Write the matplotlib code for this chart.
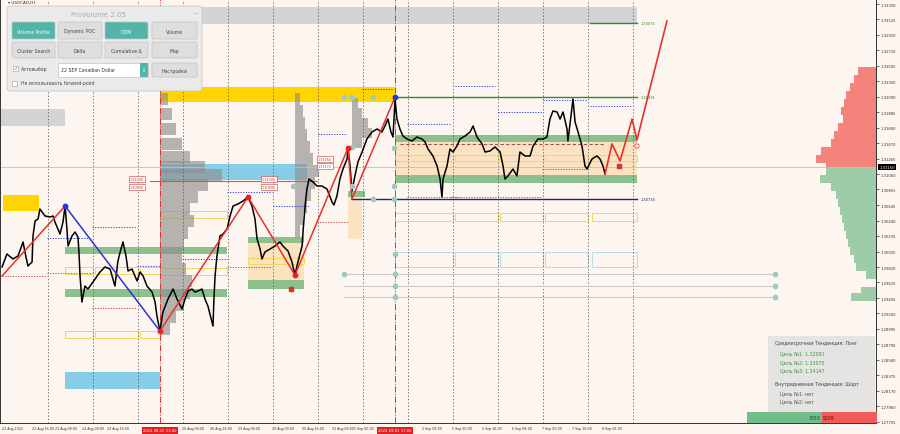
import matplotlib
matplotlib.use("Agg")
import matplotlib.pyplot as plt
import matplotlib.transforms as mtransforms
from matplotlib.patches import Rectangle, FancyBboxPatch

# time axis: hours from 22 Aug 2022 00:00 (weekends removed), prices USDCAD
path_h = [1.1, 3.7, 6.9, 9.6, 12.3, 13.3, 14.9, 17.1, 17.6, 18.7, 20.3, 21.3, 24.0, 26.7, 28.3,
          29.3, 32.0, 33.6, 34.7, 35.7, 36.3, 38.4, 40.0, 41.6, 42.1, 42.7, 43.7, 45.3, 46.9, 49.6,
          53.3, 56.0, 58.7, 61.3, 62.9, 64.5, 65.6, 67.2, 68.3, 70.4, 73.1, 74.7, 76.3, 78.4, 81.1,
          82.7, 83.7, 85.3, 86.9, 89.6, 92.3, 94.4, 97.1, 98.7, 100.3, 102.4, 104.0, 105.6, 107.7,
          109.3, 110.9, 113.1, 113.6, 114.1, 114.7, 115.7, 117.3, 118.9, 121.1, 122.7, 124.3, 126.9,
          129.6, 132.3, 134.4, 136.0, 137.1, 138.7, 139.7, 141.3, 144.0, 146.7, 149.3, 150.9, 153.6,
          155.7, 157.3, 158.9, 161.1, 161.6, 162.7, 163.7, 164.8, 166.9, 169.1, 171.7, 174.4, 177.1,
          178.1, 179.7, 181.3, 182.9, 185.1, 185.6, 186.7, 187.7, 189.3, 190.9, 193.1, 195.7, 198.4,
          201.1, 203.7, 205.3, 206.9, 208.5, 209.6, 210.7, 211.7, 213.3, 214.9, 217.1, 219.7, 222.4,
          225.1, 226.7, 228.3, 230.9, 233.1, 234.7, 235.7, 236.3, 238.4, 240.0, 241.6, 243.7, 245.3,
          248.0, 250.7, 252.3, 254.4, 257.1, 258.7, 261.3, 264.0, 266.7, 268.3, 269.3, 270.9, 273.6,
          275.7, 277.3, 280.0, 282.7, 284.3, 286.9, 289.6, 291.7, 293.3, 294.9, 297.1, 298.7, 300.3,
          302.4, 302.9, 304.5, 305.6, 306.7, 308.3, 310.4, 312.0, 313.1, 315.7, 318.4, 320.0, 321.6,
          322.7]
path_p = [1.29820, 1.29994, 1.29927, 1.29967, 1.30154, 1.30020, 1.29833, 1.29887, 1.30234, 1.30434,
          1.30461, 1.30594, 1.30501, 1.30487, 1.30501, 1.30421, 1.30260, 1.30421, 1.30634, 1.30327,
          1.30100, 1.30234, 1.30287, 1.30220, 1.30020, 1.29700, 1.29353, 1.29566, 1.29526, 1.29620,
          1.29753, 1.29820, 1.29793, 1.29566, 1.29900, 1.30060, 1.30154, 1.29967, 1.29767, 1.29793,
          1.29633, 1.29753, 1.29700, 1.29566, 1.29486, 1.29353, 1.29166, 1.28966, 1.29219, 1.29393,
          1.29526, 1.29393, 1.29260, 1.29393, 1.29500, 1.29526, 1.29486, 1.29500, 1.29526, 1.29393,
          1.29299, 1.29086, 1.29032, 1.29393, 1.29700, 1.29967, 1.30234, 1.30260, 1.30327, 1.30501,
          1.30634, 1.30661, 1.30701, 1.30754, 1.30634, 1.30461, 1.30194, 1.30060, 1.29927, 1.30020,
          1.30060, 1.30100, 1.30154, 1.30100, 1.30034, 1.29887, 1.29713, 1.29887, 1.30100, 1.30287,
          1.30634, 1.30861, 1.30995, 1.30955, 1.30901, 1.30901, 1.30861, 1.30688, 1.30648, 1.30768,
          1.30995, 1.31128, 1.31262, 1.31408, 1.31168, 1.30834, 1.31035, 1.31221, 1.31355, 1.31529,
          1.31622, 1.31662, 1.31622, 1.31702, 1.31795, 1.31622, 1.31555, 1.32062, 1.31795, 1.31662,
          1.31568, 1.31528, 1.31502, 1.31555, 1.31528, 1.31489, 1.31395, 1.31302, 1.31168, 1.30995,
          1.30754, 1.30995, 1.31168, 1.31395, 1.31355, 1.31435, 1.31528, 1.31568, 1.31622, 1.31702,
          1.31555, 1.31462, 1.31355, 1.31368, 1.31422, 1.31355, 1.31168, 1.30995, 1.31035, 1.31128,
          1.31035, 1.31355, 1.31302, 1.31302, 1.31435, 1.31528, 1.31528, 1.31555, 1.31795, 1.31902,
          1.31889, 1.31795, 1.31889, 1.31662, 1.31502, 1.31835, 1.32062, 1.31755, 1.31622, 1.31435,
          1.31168, 1.31128, 1.31262, 1.31302, 1.31262, 1.31168, 1.31061]

# forecast path
fc_h = [322.7, 326.4, 330.7, 337.1, 339.7, 355.7]
fc_p = [1.31061, 1.31462, 1.31235, 1.31795, 1.31515, 1.33103]

# zigzag swings
zz_h = [1.1, 34.7, 85.3, 132.3, 157.3, 185.6, 187.7, 210.7]
zz_p = [1.29700, 1.30634, 1.28966, 1.30754, 1.29713, 1.31408, 1.30728, 1.32089]
zz_col = ['red', 'blue', 'red', 'red', 'red', 'red', 'red']

# targets
tgt_p = [1.33075, 1.32091, 1.30734]
tgt_h0 = [314.7, 210.7, 187.7]
tgt_col = ['#2e8b2e', '#2e8b2e', '#23236e']

# zones: h0, h1, p_low, p_high, kind
zones = [
    (1.6, 20.8, 1.30568, 1.30781, 'gold'),
    (85.3, 210.7, 1.32022, 1.32222, 'gold'),
    (85.3, 339.7, 1.33063, 1.33290, 'gray'),
    (0.0, 34.7, 1.31702, 1.31929, 'gray'),
    (85.3, 163.7, 1.30981, 1.31195, 'sky'),
    (34.7, 85.3, 1.28192, 1.28419, 'sky'),
    (34.7, 121.1, 1.29994, 1.30087, 'green'),
    (34.7, 121.1, 1.29420, 1.29526, 'green'),
    (132.3, 162.1, 1.30140, 1.29647, 'peach'),
    (132.3, 162.1, 1.29526, 1.29647, 'green'),
    (132.3, 162.1, 1.30140, 1.30220, 'green'),
    (185.6, 193.1, 1.30194, 1.30754, 'peach'),
    (185.6, 194.7, 1.30754, 1.30834, 'green'),
    (210.7, 339.7, 1.31048, 1.31488, 'peach'),
    (210.7, 339.7, 1.31488, 1.31582, 'green'),
    (210.7, 339.7, 1.30941, 1.31048, 'green'),
]
zone_col = {'gold': '#ffd400', 'gray': '#d4d4d4', 'sky': '#87cde8',
            'green': '#8cc08c', 'peach': '#fbe3c2'}

# outlined boxes: h0, h1, p_low, p_high, colour
left_cells = [(34.7, 49.6), (50.7, 73.6), (74.7, 85.3)]
mid_cells = [(85.3, 97.6), (98.7, 121.1)]
right_cells = [(210.7, 241.6), (242.7, 265.6), (266.7, 289.6), (290.7, 313.6), (315.7, 339.7)]
frames = ([(a, b, 1.29727, 1.29820, '#f2d660') for a, b in left_cells] +
          [(a, b, 1.28872, 1.28966, '#f2d660') for a, b in left_cells] +
          [(a, b, 1.30474, 1.30568, '#f2d660') for a, b in mid_cells] +
          [(a, b, 1.29713, 1.29807, '#f2d660') for a, b in mid_cells] +
          [(132.3, 162.1, 1.29860, 1.29940, '#f2d660')] +
          [(a, b, 1.31235, 1.31315, '#f2d660') for a, b in right_cells] +
          [(a, b, 1.30434, 1.30541, '#f2d660') for a, b in right_cells] +
          [(a, b, 1.29820, 1.30020, '#b8dde4') for a, b in right_cells])

# dotted levels: price, h0, h1, colour
dot_levels = [
    (1.30207, 25.1, 48.0, 'b'), (1.30354, 49.1, 73.1, 'b'), (1.29833, 73.1, 85.3, 'b'),
    (1.30821, 121.1, 145.1, 'b'), (1.30634, 145.6, 165.3, 'b'), (1.29927, 97.1, 121.1, 'b'),
    (1.32196, 193.1, 209.6, 'b'), (1.31729, 217.1, 240.0, 'b'), (1.31595, 169.6, 185.1, 'b'),
    (1.32236, 242.7, 264.0, 'b'), (1.31889, 265.6, 289.1, 'b'), (1.32049, 289.6, 313.1, 'b'),
    (1.31969, 314.7, 337.1, 'b'),
    (1.29700, 1.1, 25.1, 'r'), (1.29740, 25.1, 49.1, 'r'), (1.29273, 49.1, 73.1, 'r'),
    (1.29820, 121.1, 145.1, 'r'), (1.30421, 169.1, 185.6, 'r'), (1.30754, 217.1, 245.3, 'r'),
    (1.31128, 289.1, 313.1, 'r'), (1.30754, 240.0, 289.1, 'r'),
]

# gray volume profiles: anchor hour, prices, widths (hours)
vp_a_h = 85.3
vp_a_p = [1.32062, 1.31862, 1.31662, 1.31462, 1.31288, 1.31155, 1.31048, 1.30915, 1.30754, 1.30594,
          1.30434, 1.30274, 1.30114, 1.29953, 1.29793, 1.29633, 1.29473, 1.29313, 1.29153, 1.28993]
vp_a_w = [4.3, 6.4, 8.5, 11.7, 16.0, 24.0, 33.0, 25.6, 20.3, 16.0,
          18.1, 14.9, 12.8, 11.7, 13.9, 17.1, 16.0, 12.8, 8.5, 5.3]
vp_b_h = 157.3
vp_b_p = [1.32062, 1.31902, 1.31742, 1.31582, 1.31422, 1.31262, 1.31101, 1.30941, 1.30781, 1.30621,
          1.30461, 1.30300]
vp_b_w = [2.7, 4.3, 5.3, 6.4, 8.0, 9.6, 12.8, 10.7, 8.5, 6.4, 4.3, 2.7]
vp_c_h = 187.7
vp_c_p = [1.32009, 1.31875, 1.31742, 1.31609, 1.31475]
vp_c_w = [3.2, 5.3, 8.5, 10.7, 5.3]

# right side market profile (sell red / buy green), widths in hours
mp_red_p = [1.32436, 1.32329, 1.32222, 1.32116, 1.32009, 1.31902, 1.31795, 1.31689, 1.31582,
            1.31475, 1.31368, 1.31262, 1.31181]
mp_red_w = [9.6, 11.7, 13.9, 16.0, 17.1, 18.7, 17.6, 20.3, 22.4, 24.0, 29.3, 32.0, 26.7]
mp_grn_p = [1.31101, 1.30995, 1.30888, 1.30781, 1.30674, 1.30567, 1.30461, 1.30354, 1.30247,
            1.30140, 1.30034, 1.29927, 1.29820, 1.29713, 1.29500, 1.29420]
mp_grn_w = [26.7, 29.9, 24.0, 21.3, 20.3, 19.2, 18.1, 17.1, 16.0, 14.9, 13.9, 11.7, 10.7, 5.3, 8.0, 13.3]
buy_vol, sell_vol = 7053, 5209

# teal markers
mk_h = [183.5, 187.7, 198.9, 187.7, 210.1, 210.1, 187.7, 210.1, 198.9, 156.3,
        183.5, 210.7, 210.7, 210.7, 210.7, 413.3, 413.3, 413.3]
mk_p = [1.32089, 1.32089, 1.32089, 1.31422, 1.31408, 1.30901, 1.30901, 1.30728, 1.30728, 1.30901,
        1.29727, 1.29994, 1.29727, 1.29567, 1.29420, 1.29727, 1.29567, 1.29420]

bid = 1.31150
x_pos = [1.1, 17.1, 29.3, 43.7, 57.1, 97.1, 112.0, 126.9, 145.1, 161.1, 177.1, 188.8, 225.1,
         241.1, 257.1, 273.1, 289.1, 305.1, 321.1]
x_lab = ['22 Aug 2022', '22 Aug 16:00', '23 Aug 08:00', '24 Aug 00:00', '24 Aug 16:00',
         '26 Aug 00:00', '26 Aug 16:00', '29 Aug 08:00', '30 Aug 00:00', '30 Aug 16:00',
         '31 Aug 08:00', '1 Sep 00:00', '2 Sep 08:00', '5 Sep 00:00', '5 Sep 16:00',
         '6 Sep 08:00', '7 Sep 00:00', '7 Sep 16:00', '8 Sep 08:00']
day_sep = [25.6, 49.6, 73.6, 97.6, 121.6, 145.6, 169.6, 193.6, 217.6, 241.6, 265.6, 289.6,
           313.6, 337.6]
y_ticks = [1.33330, 1.33125, 1.32920, 1.32710, 1.32505, 1.32300, 1.32090, 1.31885, 1.31680,
           1.31470, 1.31265, 1.31060, 1.30855, 1.30645, 1.30440, 1.30235, 1.30025, 1.29820,
           1.29615, 1.29405, 1.29200, 1.28995, 1.28790, 1.28580, 1.28375, 1.28170, 1.27960,
           1.27755]
marks = [(85.3, '2022.08.25 13:00'), (210.7, '2022.09.01 17:00')]

BG = '#fdf5ef'
fig = plt.figure(figsize=(9, 4.35), dpi=100, facecolor=BG)
ax = fig.add_axes([0, 11 / 435, 876 / 900, 424 / 435], facecolor=BG)
XMAX = 467.2
ax.set_xlim(0, XMAX)
ax.set_ylim(1.27738, 1.33397)

for h0, h1, lo, hi, kind in zones:
    ax.add_patch(Rectangle((h0, lo), h1 - h0, hi - lo, fc=zone_col[kind], ec='none', zorder=1))
for h0, h1, lo, hi, c in frames:
    ax.add_patch(Rectangle((h0, lo), h1 - h0, hi - lo, fc='none', ec=c, lw=0.7, zorder=1.5))

ax.barh(vp_a_p, vp_a_w, height=0.0016, left=vp_a_h, color='#8f8f8f', alpha=0.65, zorder=2)
ax.barh(vp_b_p, vp_b_w, height=0.0016, left=vp_b_h, color='#8f8f8f', alpha=0.65, zorder=2)
ax.barh(vp_c_p, vp_c_w, height=0.00134, left=vp_c_h, color='#8f8f8f', alpha=0.65, zorder=2)
ax.barh(mp_red_p, mp_red_w, height=0.00107, left=[XMAX - w for w in mp_red_w],
        color='#f4837c', zorder=2)
ax.barh(mp_grn_p, mp_grn_w, height=0.00107, left=[XMAX - w for w in mp_grn_w],
        color='#9fcca8', zorder=2)

for x in day_sep:
    ax.axvline(x, color='#555555', ls=(0, (1.5, 2.5)), lw=0.6, zorder=2)
for x, _ in marks:
    ax.axvline(x, color='#e03030', ls='-.', lw=0.7, zorder=2)

for p, h0, h1, c in dot_levels:
    col = '#3040d0' if c == 'b' else '#d04040'
    ax.plot([h0, h1], [p, p], color=col, ls=(0, (1.2, 1.5)), lw=0.7, zorder=2.5)
ax.plot([213.3, 322.7], [1.31462, 1.31462], color='#a05050', ls=(0, (3, 2)), lw=0.8, zorder=2.5)
ax.plot([80.0, 169.0], [1.30968, 1.30968], color='#d05858', lw=0.8, zorder=2.5)
for p in [1.29727, 1.29567, 1.29420]:
    ax.plot([183.5, 413.3], [p, p], color='#c8c8c8', lw=0.7, zorder=2.5)
ax.axhline(bid, color='#c0c0c0', lw=0.6, zorder=2.5)

for p, h0, c in zip(tgt_p, tgt_h0, tgt_col):
    ax.plot([h0, 339.7], [p, p], color=c, lw=1.0, zorder=3)
    ax.text(341.5, p, f'{p:.5f}', color=c, fontsize=2.6, va='center', zorder=3)

ax.plot(path_h, path_p, color='black', lw=1.1, zorder=4)
ax.plot(fc_h, fc_p, color='#e8302a', lw=1.2, zorder=5)
for i, c in enumerate(zz_col):
    col = '#e8302a' if c == 'red' else '#2a36d0'
    ax.plot(zz_h[i:i + 2], zz_p[i:i + 2], color=col, lw=1.1, zorder=5)
ax.scatter(mk_h, mk_p, s=9, color='#9cc9c4', zorder=5.5)
ax.scatter([34.7, 210.7], [1.30634, 1.32089], s=10, color='#2a36d0', zorder=6)
ax.scatter([85.3, 132.3, 185.6, 157.3], [1.28966, 1.30754, 1.31408, 1.29713], s=10,
           color='#e82020', zorder=6)
ax.scatter([155.2, 330.0], [1.29526, 1.31168], s=5, marker='s', color='#e03030', zorder=6)
ax.scatter([339.7], [1.31435], s=10, facecolors='none', edgecolors='#e05050', lw=0.6, zorder=6)

for h, p, t in [(69.3, 1.30995, '1.31000'), (69.3, 1.30888, '1.30890'),
                (139.7, 1.30995, '1.31000'), (139.7, 1.30888, '1.30890'),
                (169.6, 1.31262, '1.31265'), (169.6, 1.31168, '1.31172')]:
    ax.text(h, p, t, fontsize=2.4, color='#d03030', va='center', zorder=7,
            bbox=dict(boxstyle='square,pad=0.25', fc='white', ec='#d03030', lw=0.4))

ax.yaxis.tick_right()
ax.set_yticks(y_ticks)
ax.set_yticklabels([f'{v:.5f}' for v in y_ticks])
ax.set_xticks(x_pos)
ax.set_xticklabels(x_lab, ha='left')
ax.tick_params(axis='y', labelsize=2.7, length=2, width=0.5, pad=1.5, colors='#333333')
ax.tick_params(axis='x', labelsize=2.3, length=0, pad=2, colors='#333333')
for s in ['left', 'bottom', 'right']:
    ax.spines[s].set_color('#333333')
    ax.spines[s].set_linewidth(0.7)
ax.spines['top'].set_visible(False)

trb = mtransforms.blended_transform_factory(ax.transData, ax.transAxes)
for x, t in marks:
    ax.text(x, -0.0175, t, transform=trb, ha='center', va='center', fontsize=2.7, color='white',
            zorder=8, clip_on=False,
            bbox=dict(boxstyle='square,pad=0.35', fc='#e02020', ec='none'))
trr = mtransforms.blended_transform_factory(ax.transAxes, ax.transData)
ax.text(1.004, bid, f'{bid:.5f}', transform=trr, va='center', fontsize=2.7, color='white',
        zorder=8, clip_on=False, bbox=dict(boxstyle='square,pad=0.3', fc='black', ec='none'))

# overlay in pixel space for terminal panels
ov = fig.add_axes([0, 0, 1, 1], zorder=10)
ov.set_xlim(0, 900)
ov.set_ylim(435, 0)
ov.axis('off')
ov.patch.set_alpha(0)

ov.text(8, 3.5, '▾ USDCAD,H1', fontsize=3, color='#333333', va='center')
ov.add_patch(FancyBboxPatch((7, 7), 195, 85, boxstyle='round,pad=0,rounding_size=3',
                            fc='#ebebeb', ec='#c8c8c8', lw=0.6, alpha=0.96))
ov.text(98, 15, 'ProVolume 2.05', fontsize=5, color='#a9a9a9', ha='center', va='center')
ov.text(195, 14, '—', fontsize=4, color='#999999', ha='center', va='center')
rows = [['Volume Profile', 'Dynamic POC', 'DOM', 'Volume'],
        ['Cluster Search', 'Delta', 'Cumulative Δ', 'Map']]
active = ['Volume Profile', 'DOM']
cols_x = [(12, 55), (58, 102), (105, 148), (152, 197)]
rows_y = [(23, 40), (43, 59)]
for names, (y0, y1) in zip(rows, rows_y):
    for name, (x0, x1) in zip(names, cols_x):
        on = name in active
        ov.add_patch(FancyBboxPatch((x0, y0), x1 - x0, y1 - y0,
                                    boxstyle='round,pad=0,rounding_size=1.5',
                                    fc='#52b5a8' if on else '#dedede', ec='#c2c2c2', lw=0.5))
        ov.text((x0 + x1) / 2, (y0 + y1) / 2 + 0.5, name, fontsize=3.3, ha='center', va='center',
                color='white' if on else '#444444')
ov.add_patch(Rectangle((13, 67), 5, 5, fc='white', ec='#999999', lw=0.4))
ov.text(15.5, 69, '✓', fontsize=4, color='#3aa596', ha='center', va='center')
ov.text(21, 70, 'Автовыбор', fontsize=3.3, color='#444444', va='center')
ov.add_patch(Rectangle((58, 64), 90, 14, fc='white', ec='#c2c2c2', lw=0.5))
ov.add_patch(Rectangle((140, 64), 8, 14, fc='#52b5a8', ec='none'))
ov.text(144, 71, '⇕', fontsize=3.5, color='white', ha='center', va='center')
ov.text(61, 71, '22 SEP Canadian Dollar', fontsize=3.3, color='#333333', va='center')
ov.add_patch(FancyBboxPatch((152, 64), 45, 14, boxstyle='round,pad=0,rounding_size=1.5',
                            fc='#dedede', ec='#c2c2c2', lw=0.5))
ov.text(174.5, 71, 'Настройки', fontsize=3.3, color='#444444', ha='center', va='center')
ov.add_patch(Rectangle((12, 81.5), 5, 5, fc='white', ec='#999999', lw=0.4))
ov.text(21, 84, 'Не использовать forward-point', fontsize=3.3, color='#444444', va='center')

ov.add_patch(Rectangle((768, 337), 107, 76, fc='#e3e3e3', ec='none', alpha=0.92))
info = [(775, 344, 'Среднесрочная Тенденция: Лонг', '#444444'),
        (780, 354, 'Цель №1: 1.32091', '#3a9a3a'),
        (780, 362.5, 'Цель №2: 1.33075', '#3a9a3a'),
        (780, 371, 'Цель №3: 1.34147', '#3a9a3a'),
        (775, 385, 'Внутридневная Тенденция: Шорт', '#444444'),
        (780, 394, 'Цель №1: нет', '#555555'),
        (780, 402, 'Цель №2: нет', '#555555')]
for x, y, t, c in info:
    ov.text(x, y, t, fontsize=3.4, color=c, va='center')

bar_w = 130
g_w = bar_w * buy_vol / (buy_vol + sell_vol)
ov.add_patch(Rectangle((747, 413), g_w, 11, fc='#72be8a', ec='none'))
ov.add_patch(Rectangle((747 + g_w, 413), bar_w - g_w, 11, fc='#f25a5a', ec='none'))
ov.text(747 + g_w - 1, 418.5, str(buy_vol), fontsize=3.3, color='#1f3f2a', ha='right', va='center')
ov.text(747 + g_w + 1, 418.5, str(sell_vol), fontsize=3.3, color='#5a1010', ha='left', va='center')

fig.savefig('out.png', dpi=100, facecolor=BG)
